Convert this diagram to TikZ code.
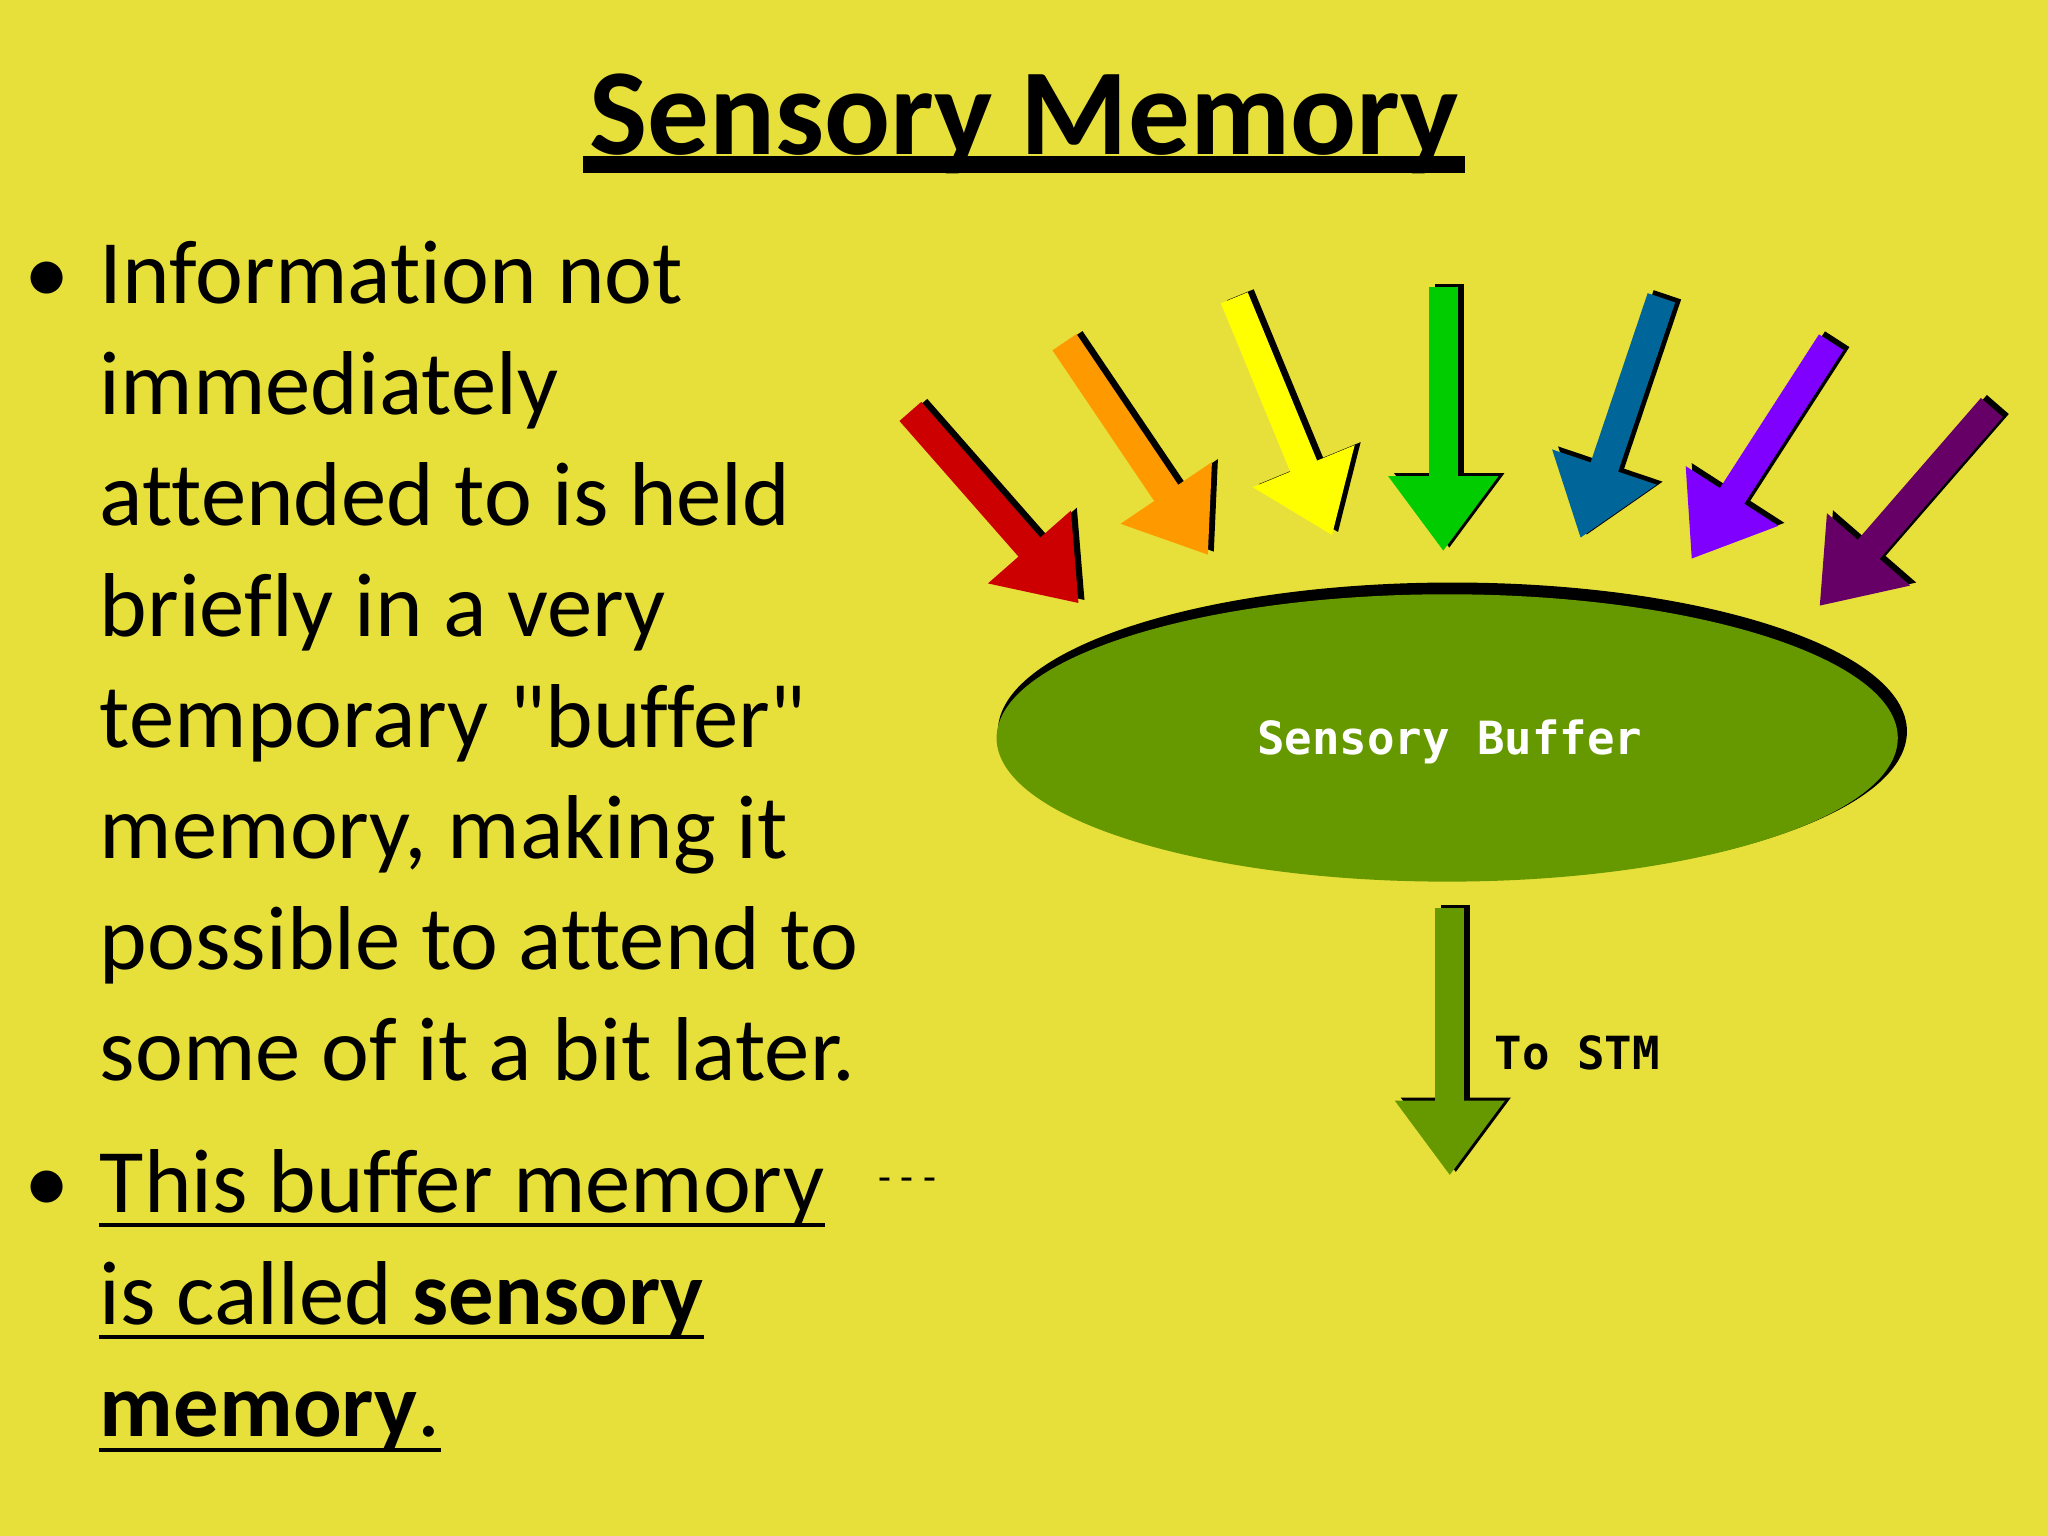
\documentclass[tikz,border=0pt]{standalone}
\usepackage{fontspec}
\setmainfont[Ligatures=NoCommon]{Carlito}
\newfontfamily\nq{Carlito}
\newfontfamily\pix{DejaVu Sans Mono}
\usetikzlibrary{arrows.meta}
\definecolor{bg}{HTML}{E8E03A}
\definecolor{olive}{HTML}{669900}
\tikzset{
 body/.style={anchor=base west,inner sep=0pt,font=\fontsize{25.8}{30}\selectfont},
 arr/.style={line width=2.9mm,-{Triangle[length=7.5mm,width=10.5mm]}},
 shadow/.style={arr,black,transform canvas={shift={(0.6mm,0.3mm)}}},
}
\newcommand{\sensarrow}[3]{%
 \coordinate (s#3) at #1; \coordinate (e#3) at #2;
 \draw[shadow] (s#3) -- (e#3);
 \draw[arr,#3] (s#3) -- (e#3);}
\begin{document}
\begin{tikzpicture}[x=0.01306cm,y=-0.01306cm]
\fill[bg] (0,0) rectangle (1568,1176);
\useasboundingbox (0,0) rectangle (1568,1176);
\node[anchor=base,inner sep=0pt,font=\fontsize{35}{40}\selectfont\bfseries] (title) at (784,118) {Sensory Memory};
\draw[line width=1.7mm] (446,126) -- (1122,126);
\node[body] (b1) at (18,232) {•};
\foreach \t [count=\i] in {Information not,immediately,attended to is held,briefly in a very,temporary {\nq"}buffer{\nq"},{memory, making it},possible to attend to,some of it a bit later.}
  \node[body] (l\i) at (76,{232+85*(\i-1)}) {\t};
\node[body] (b2) at (18,928) {•};
\node[body] (m1) at (76,928) {This buffer memory};
\node[body] (m2) at (76,1014) {is called \textbf{sensory}};
\node[body] (m3) at (76,1100) {\textbf{memory}.\ };
\foreach \n in {m1,m2,m3} \draw[line width=0.4mm] ([yshift=-1.3mm]\n.base west) -- ([yshift=-1.3mm]\n.base east);
\node[anchor=base west,inner sep=0pt,font=\fontsize{12}{14}\selectfont] (dash) at (672,912) {- - -};
\definecolor{red}{HTML}{CC0000}\definecolor{orange}{HTML}{FF9900}
\definecolor{yellow}{HTML}{FFFF00}\definecolor{green}{HTML}{00CC00}
\definecolor{blue}{HTML}{006699}\definecolor{violet}{HTML}{7F00FF}
\definecolor{purple}{HTML}{660066}
\sensarrow{(697,315)}{(826,462)}{red}
\sensarrow{(815,262)}{(925,425)}{orange}
\sensarrow{(945,228)}{(1020,410)}{yellow}
\sensarrow{(1105,220)}{(1105,422)}{green}
\sensarrow{(1272,228)}{(1210,412)}{blue}
\sensarrow{(1402,262)}{(1295,428)}{violet}
\sensarrow{(1525,312)}{(1393,464)}{purple}
\fill[black] (1112,560) ellipse [x radius=348, y radius=114];
\fill[olive] (1108,565) ellipse [x radius=345, y radius=110];
\node[font=\pix\bfseries\fontsize{13}{16}\selectfont,text=white] (buf) at (1110,568) {Sensory Buffer};
\coordinate (d1) at (1110,695); \coordinate (d2) at (1110,900);
\draw[shadow] (d1) -- (d2);
\draw[arr,olive] (d1) -- (d2);
\node[font=\pix\bfseries\fontsize{13}{16}\selectfont,anchor=west] (stm) at (1135,806) {To STM};
\end{tikzpicture}
\end{document}
